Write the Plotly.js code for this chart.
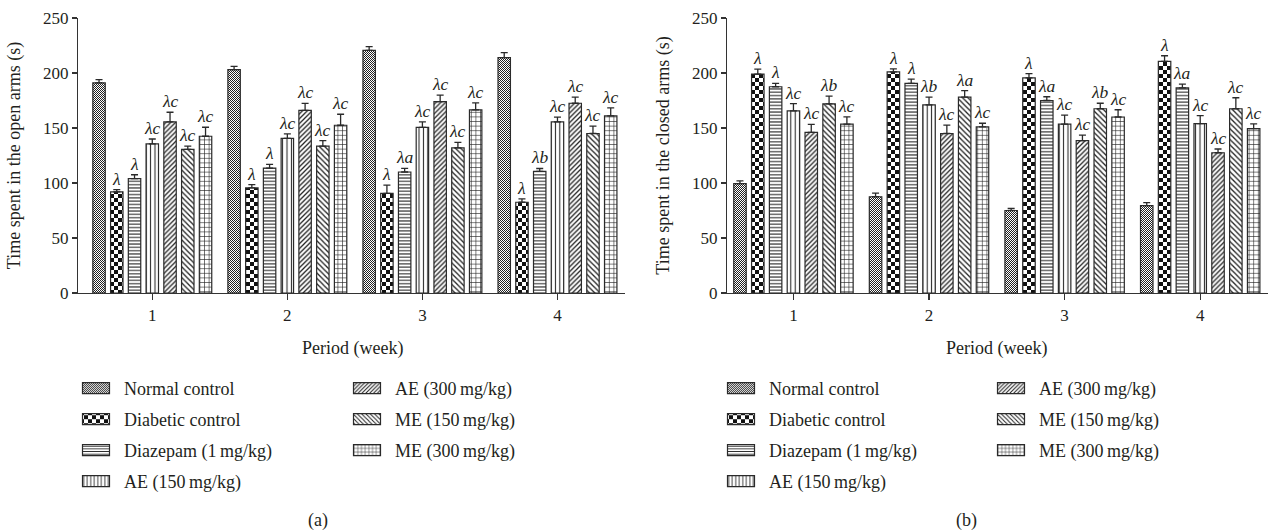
<!DOCTYPE html>
<html><head><meta charset="utf-8">
<script src="https://cdn.plot.ly/plotly-3.0.1.min.js"></script>
<style>html,body{margin:0;padding:0;background:#fff}#chart{width:1269px;height:531px}</style>
</head><body>
<svg width="0" height="0" style="position:absolute">
<defs>
<pattern id="chkFine" patternUnits="userSpaceOnUse" width="2" height="2"><rect width="2" height="2" fill="#fff"/><rect width="1" height="1" fill="#222"/><rect x="1" y="1" width="1" height="1" fill="#222"/></pattern>
<pattern id="chkCoarse" patternUnits="userSpaceOnUse" width="8" height="8"><rect width="8" height="8" fill="#fff"/><rect width="4" height="4" fill="#111"/><rect x="4" y="4" width="4" height="4" fill="#111"/></pattern>
</defs></svg>
<div id="chart"></div>
<script>
// ---- categories ----
const weeks = ['1', '2', '3', '4'];
const seriesNames = ['Normal control', 'Diabetic control', 'Diazepam (1\u2009mg/kg)', 'AE (150\u2009mg/kg)',
                     'AE (300\u2009mg/kg)', 'ME (150\u2009mg/kg)', 'ME (300\u2009mg/kg)'];

// ---- (a) time in open arms ----
const openNormal     = [191, 203, 220.5, 214];
const openDiabetic   = [92, 95.5, 90.5, 82.5];
const openDiazepam   = [104, 113.5, 110, 110.5];
const openAE150      = [135.5, 140.5, 150.5, 155.5];
const openAE300      = [155.5, 166, 174, 172.5];
const openME150      = [130.5, 133.5, 132, 145];
const openME300      = [142.5, 152.5, 166.5, 161];
const openNormalErr   = [3, 3, 3.5, 4.5];
const openDiabeticErr = [2, 3, 7.5, 3];
const openDiazepamErr = [3.5, 3.5, 3.3, 2.7];
const openAE150Err    = [4.5, 4.2, 5, 4.3];
const openAE300Err    = [8.8, 6.4, 5.8, 5.5];
const openME150Err    = [3, 5, 5, 6.7];
const openME300Err    = [8.2, 10, 6.3, 7.3];
const openLabels = [
  ['', '', '', ''],
  ['λ', 'λ', 'λ', 'λ'],
  ['λ', 'λ', 'λa', 'λb'],
  ['λc', 'λc', 'λc', 'λc'],
  ['λc', 'λc', 'λc', 'λc'],
  ['λc', 'λc', 'λc', 'λc'],
  ['λc', 'λc', 'λc', 'λc']
];

// ---- (b) time in closed arms ----
const closedNormal     = [99.5, 87.5, 75, 79.5];
const closedDiabetic   = [199, 201, 195.5, 210.5];
const closedDiazepam   = [187.5, 190.5, 175, 186.5];
const closedAE150      = [165.5, 171, 153.5, 154];
const closedAE300      = [146, 145, 138.5, 127.5];
const closedME150      = [172, 178, 167.5, 167.5];
const closedME300      = [153.5, 151, 160, 149.5];
const closedNormalErr   = [2.5, 3.3, 2, 2.7];
const closedDiabeticErr = [4.5, 2.7, 4, 5.2];
const closedDiazepamErr = [3, 4, 3.4, 3.4];
const closedAE150Err    = [6.6, 7, 8.2, 7.3];
const closedAE300Err    = [7.3, 7.6, 5, 3.4];
const closedME150Err    = [7, 6, 5, 10];
const closedME300Err    = [6.7, 3.3, 6.6, 4.2];
const closedLabels = [
  ['', '', '', ''],
  ['λ', 'λ', 'λ', 'λ'],
  ['λ', 'λ', 'λa', 'λa'],
  ['λc', 'λb', 'λc', 'λc'],
  ['λc', 'λc', 'λc', 'λc'],
  ['λb', 'λa', 'λb', 'λc'],
  ['λc', 'λc', 'λc', 'λc']
];

const yTitleOpen = 'Time spent in the open arms (s)';
const yTitleClosed = 'Time spent in the closed arms (s)';
const xTitle = 'Period (week)';
const panelLabels = ['(a)', '(b)'];

// ---- styles ----
const INK = '#231f20';
const FONT = '"Liberation Serif", "Times New Roman", serif';
const BARGAP = 0.08, GROUPGAP = 0.3;
const patterns = [
  {shape: ''}, {shape: ''},
  {shape: '-', size: 3.3, solidity: 0.32, fgcolor: '#222', bgcolor: '#fff'},
  {shape: '|', size: 4.4, solidity: 0.24, fgcolor: '#222', bgcolor: '#fff'},
  {shape: '/', size: 3.4, solidity: 0.38, fgcolor: '#222', bgcolor: '#fff'},
  {shape: '\\', size: 3.8, solidity: 0.34, fgcolor: '#222', bgcolor: '#fff'},
  {shape: '+', size: 4.6, solidity: 0.24, fgcolor: '#222', bgcolor: '#fff'}
];
const customFill = {0: 'chkFine', 1: 'chkCoarse'};

const openVals = [openNormal, openDiabetic, openDiazepam, openAE150, openAE300, openME150, openME300];
const openErrs = [openNormalErr, openDiabeticErr, openDiazepamErr, openAE150Err, openAE300Err, openME150Err, openME300Err];
const closedVals = [closedNormal, closedDiabetic, closedDiazepam, closedAE150, closedAE300, closedME150, closedME300];
const closedErrs = [closedNormalErr, closedDiabeticErr, closedDiazepamErr, closedAE150Err, closedAE300Err, closedME150Err, closedME300Err];

const panels = [
  {vals: openVals, errs: openErrs, labels: openLabels, xa: 'x', ya: 'y', legA: 'legend', legB: 'legend2', g: 'a'},
  {vals: closedVals, errs: closedErrs, labels: closedLabels, xa: 'x2', ya: 'y2', legA: 'legend3', legB: 'legend4', g: 'b'}
];

const data = [];
const annotations = [];
const nS = seriesNames.length;
const slot = (1 - BARGAP) / nS;
panels.forEach(function (p) {
  for (let s = 0; s < nS; s++) {
    data.push({
      type: 'bar', x: weeks, y: p.vals[s], name: seriesNames[s],
      xaxis: p.xa, yaxis: p.ya,
      legend: s < 4 ? p.legA : p.legB, legendgroup: p.g + s,
      marker: {color: '#fff', line: {color: '#2a2a2a', width: 1.2}, pattern: patterns[s]},
      error_y: {type: 'data', symmetric: false, array: p.errs[s], arrayminus: p.errs[s].map(() => 0),
                color: '#2a2a2a', thickness: 1.3, width: 3.5},
      hoverinfo: 'skip'
    });
    for (let k = 0; k < weeks.length; k++) {
      const t = p.labels[s][k];
      if (!t) continue;
      annotations.push({
        xref: p.xa, yref: p.ya, x: k + (s - (nS - 1) / 2) * slot, y: p.vals[s][k] + p.errs[s][k],
        text: t, showarrow: false, xanchor: 'center', yanchor: 'bottom', yshift: -1,
        font: {family: FONT, size: 17.5, color: INK, style: 'italic'}
      });
    }
  }
});

// x-axis titles and panel labels
const px = v => v / 1269;
const py = v => (293 - v) / 275;
annotations.push({xref: 'paper', yref: 'paper', x: px(352), y: py(348), text: xTitle, showarrow: false,
  xanchor: 'center', yanchor: 'middle', font: {family: FONT, size: 18, color: INK}});
annotations.push({xref: 'paper', yref: 'paper', x: px(996), y: py(348), text: xTitle, showarrow: false,
  xanchor: 'center', yanchor: 'middle', font: {family: FONT, size: 18, color: INK}});
annotations.push({xref: 'paper', yref: 'paper', x: px(318), y: py(520), text: panelLabels[0], showarrow: false,
  xanchor: 'center', yanchor: 'middle', font: {family: FONT, size: 18, color: INK}});
annotations.push({xref: 'paper', yref: 'paper', x: px(966), y: py(520), text: panelLabels[1], showarrow: false,
  xanchor: 'center', yanchor: 'middle', font: {family: FONT, size: 18, color: INK}});

function xAxis(dom, range, anchor) {
  return {domain: dom, anchor: anchor, type: 'category', range: range, showline: true, linecolor: '#333', linewidth: 1.2,
    ticks: 'outside', ticklen: 6, tickwidth: 1.2, tickcolor: '#333', showgrid: false, zeroline: false,
    tickfont: {family: FONT, size: 17, color: INK}, fixedrange: true};
}
function yAxis(title, anchor) {
  return {domain: [0, 1], anchor: anchor, range: [0, 250], tick0: 0, dtick: 50, showline: true, linecolor: '#333', linewidth: 1.2,
    ticks: 'outside', ticklen: 5, tickwidth: 1.2, tickcolor: '#333', showgrid: false, zeroline: false,
    tickfont: {family: FONT, size: 17, color: INK},
    title: {text: title, font: {family: FONT, size: 18, color: INK}, standoff: 17}, fixedrange: true};
}
function legendAt(xpx) {
  return {x: px(xpx), xanchor: 'left', y: py(370), yanchor: 'top', orientation: 'v', itemwidth: 46,
    traceorder: 'grouped', tracegroupgap: 4.6, bgcolor: 'rgba(0,0,0,0)', borderwidth: 0,
    font: {family: FONT, size: 18, color: INK}};
}

const layout = {
  width: 1269, height: 531, margin: {l: 0, r: 0, t: 18, b: 238},
  paper_bgcolor: '#fff', plot_bgcolor: '#fff', font: {family: FONT, size: 17, color: INK},
  barmode: 'group', bargap: BARGAP, bargroupgap: GROUPGAP,
  xaxis: xAxis([78 / 1269, 625 / 1269], [-0.55, 3.5], 'y'),
  yaxis: yAxis(yTitleOpen, 'x'),
  xaxis2: xAxis([727 / 1269, 1268 / 1269], [-0.49, 3.5], 'y2'),
  yaxis2: yAxis(yTitleClosed, 'x2'),
  legend: legendAt(68), legend2: legendAt(339), legend3: legendAt(713), legend4: legendAt(983),
  annotations: annotations, showlegend: true
};

function post(gd) {
  gd.querySelectorAll('g.trace.bars').forEach(function (g) {
    const cd = g.__data__;
    if (!cd || !cd[0] || !cd[0].trace) return;
    const id = customFill[cd[0].trace.index % nS];
    if (!id) return;
    g.querySelectorAll('g.point path').forEach(function (p) { p.style.fill = 'url(#' + id + ')'; });
  });
  gd.querySelectorAll('g.traces').forEach(function (g) {
    const d = g.__data__;
    const tr = d && d[0] && d[0].trace;
    g.querySelectorAll('g.legendpoints path').forEach(function (p) {
      p.setAttribute('d', 'M13.5,5.5H-13.5V-5.5H13.5Z');
      if (tr) {
        const id = customFill[tr.index % nS];
        if (id) p.style.fill = 'url(#' + id + ')';
      }
    });
  });
}

const gd = document.getElementById('chart');
Plotly.newPlot(gd, data, layout, {staticPlot: true, displayModeBar: false}).then(post);
</script>
</body></html>
